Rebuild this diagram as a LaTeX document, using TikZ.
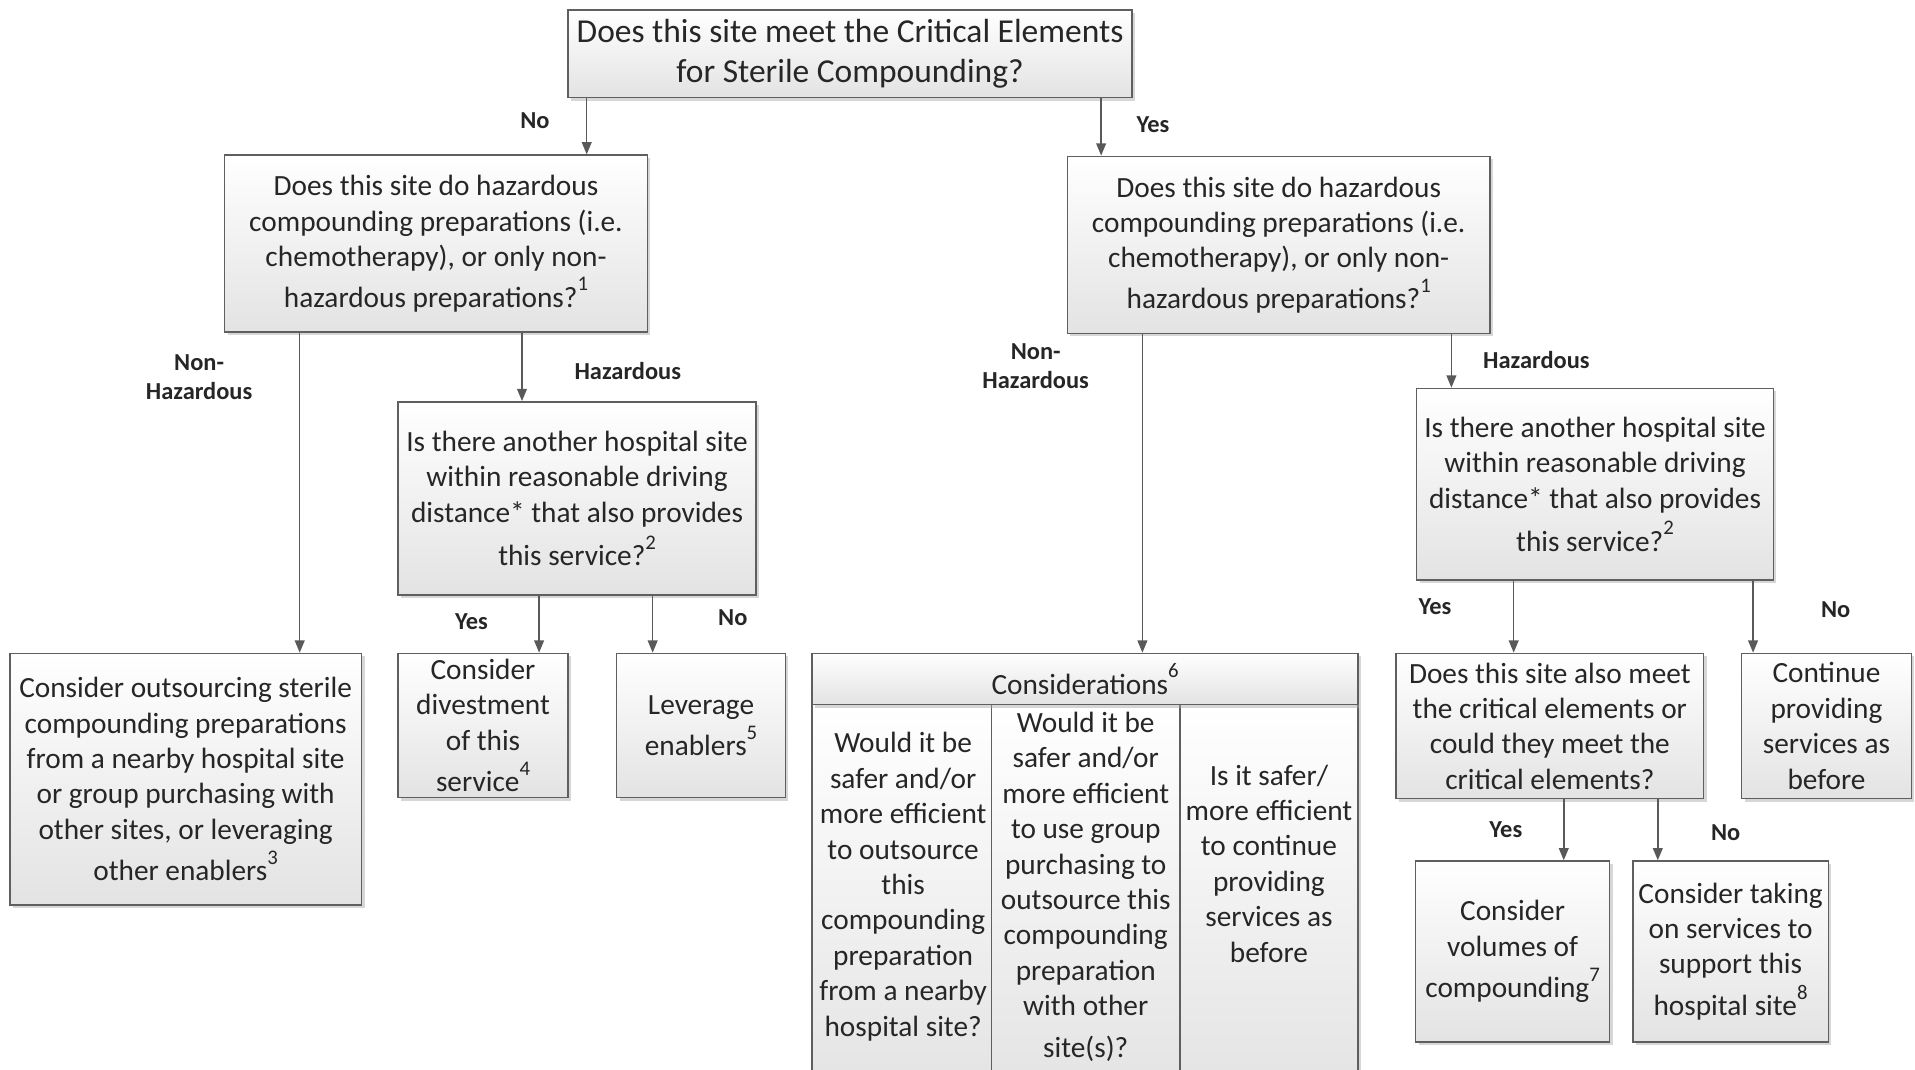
\documentclass[tikz,border=0pt]{standalone}
\usepackage{fontspec}
\setmainfont{Carlito}
\usetikzlibrary{arrows.meta,shadows}

\definecolor{boxline}{HTML}{5F5F5F}
\definecolor{boxgray}{HTML}{E3E3E3}
\definecolor{linegray}{HTML}{595959}
\definecolor{inktext}{HTML}{262626}

\newcommand{\fnote}[1]{\raisebox{0.55em}{\fontsize{17}{17}\selectfont #1}}

\tikzset{
  box/.style={draw=boxline, line width=1.2pt, top color=white, bottom color=boxgray,
    inner sep=0pt, align=center, text=inktext, font=\fontsize{24}{29}\selectfont,
    drop shadow={shadow xshift=2.5pt, shadow yshift=-2.5pt, fill=black!35, opacity=0.45}},
  celltext/.style={inner sep=0pt, align=center, text=inktext, font=\fontsize{24}{29}\selectfont},
  choice/.style={align=center, text=inktext, font=\bfseries\fontsize{20}{24}\selectfont},
  arr/.style={draw=linegray, line width=1.2pt, -{Triangle[length=10pt,width=8pt]}},
}

\begin{document}
\begin{tikzpicture}[x=1pt, y=-1pt]

            \useasboundingbox (0,0) rectangle (1568,876);
            \clip (0,0) rectangle (1568,876);

            % Root question
            \node[box, minimum width=462pt, minimum height=72pt, font=\fontsize{27.4}{33}\selectfont] (top) at (696,44)
              {Does this site meet the Critical Elements\\for Sterile Compounding?};

            % Left branch (No)
            \node[box, minimum width=346pt, minimum height=145pt] (hazL) at (357,199.5)
              {Does this site do hazardous\\compounding preparations (i.e.\\chemotherapy), or only non-\\[4pt]hazardous preparations?\fnote{1}};
            \node[box, minimum width=293pt, minimum height=158pt] (nearL) at (472.5,408)
              {Is there another hospital site\\within reasonable driving\\distance* that also provides\\[6pt]this service?\fnote{2}};
            \node[box, minimum width=288pt, minimum height=206pt] (outsource) at (152,638)
              {Consider outsourcing sterile\\compounding preparations\\from a nearby hospital site\\or group purchasing with\\other sites, or leveraging\\[5pt]other enablers\fnote{3}};
            \node[box, minimum width=139pt, minimum height=118pt] (divest) at (395.5,594)
              {Consider\\divestment\\of this\\[5pt]service\fnote{4}};
            \node[box, minimum width=138pt, minimum height=118pt] (leverage) at (574,594)
              {Leverage\\[5pt]enablers\fnote{5}};

            % Right branch (Yes)
            \node[box, minimum width=346pt, minimum height=145pt] (hazR) at (1047,200.5)
              {Does this site do hazardous\\compounding preparations (i.e.\\chemotherapy), or only non-\\[4pt]hazardous preparations?\fnote{1}};
            \node[box, minimum width=292pt, minimum height=157pt] (nearR) at (1306,396.5)
              {Is there another hospital site\\within reasonable driving\\distance* that also provides\\[6pt]this service?\fnote{2}};
            \node[box, minimum width=252pt, minimum height=119pt] (alsomeet) at (1269,594.5)
              {Does this site also meet\\the critical elements or\\could they meet the\\critical elements?};
            \node[box, minimum width=139pt, minimum height=119pt] (continue) at (1495.5,594.5)
              {Continue\\providing\\services as\\before};
            \node[box, minimum width=159pt, minimum height=148pt] (volumes) at (1238.5,779)
              {Consider\\volumes of\\[5pt]compounding\fnote{7}};
            \node[box, minimum width=160pt, minimum height=148pt] (takeon) at (1417,779)
              {Consider taking\\on services to\\support this\\[5pt]hospital site\fnote{8}};

            % Considerations table (runs past the bottom edge)
            \node[box, minimum width=147pt, minimum height=323pt] (consA) at (738.5,738.5) {};
            \node[box, minimum width=154pt, minimum height=323pt] (consB) at (889,738.5) {};
            \node[box, minimum width=146pt, minimum height=323pt] (consC) at (1039,738.5) {};
            \node[box, minimum width=447pt, minimum height=42pt] (cons) at (888.5,556)
              {Considerations\fnote{6}};
            \node[celltext] (consAtext) at (739.5,726)
              {Would it be\\safer and/or\\more efficient\\to outsource\\this\\compounding\\preparation\\from a nearby\\hospital site?};
            \node[celltext] (consBtext) at (889,726)
              {Would it be\\safer and/or\\more efficient\\to use group\\purchasing to\\outsource this\\compounding\\preparation\\with other\\[5pt]site(s)?};
            \node[celltext] (consCtext) at (1039,707)
              {Is it safer/\\more efficient\\to continue\\providing\\services as\\before};

            % Connectors
            \draw[arr] ([xshift=16pt]top.south west) -- ([xshift=16pt]top.south west |- hazL.north);
            \draw[arr] ([xshift=-26pt]top.south east) -- ([xshift=-26pt]top.south east |- hazR.north);
            \draw[arr] ([xshift=62pt]hazL.south west) -- ([xshift=62pt]hazL.south west |- outsource.north);
            \draw[arr] ([xshift=244pt]hazL.south west) -- ([xshift=244pt]hazL.south west |- nearL.north);
            \draw[arr] ([xshift=116pt]nearL.south west) -- ([xshift=116pt]nearL.south west |- divest.north);
            \draw[arr] ([xshift=209pt]nearL.south west) -- ([xshift=209pt]nearL.south west |- leverage.north);
            \draw[arr] ([xshift=62pt]hazR.south west) -- ([xshift=62pt]hazR.south west |- cons.north);
            \draw[arr] ([xshift=315pt]hazR.south west) -- ([xshift=315pt]hazR.south west |- nearR.north);
            \draw[arr] ([xshift=80pt]nearR.south west) -- ([xshift=80pt]nearR.south west |- alsomeet.north);
            \draw[arr] ([xshift=276pt]nearR.south west) -- ([xshift=276pt]nearR.south west |- continue.north);
            \draw[arr] ([xshift=138pt]alsomeet.south west) -- ([xshift=138pt]alsomeet.south west |- volumes.north);
            \draw[arr] ([xshift=215pt]alsomeet.south west) -- ([xshift=215pt]alsomeet.south west |- takeon.north);

            % Branch labels
            \node[choice] (noTop) at (438,99) {No};
            \node[choice] (yesTop) at (944,102) {Yes};
            \node[choice] (nonhazL) at (163,309) {Non-\\Hazardous};
            \node[choice] (hazLabelL) at (514,304) {Hazardous};
            \node[choice] (yesL) at (386,509) {Yes};
            \node[choice] (noL) at (600,506) {No};
            \node[choice] (nonhazR) at (848,300) {Non-\\Hazardous};
            \node[choice] (hazLabelR) at (1258,295) {Hazardous};
            \node[choice] (yesR) at (1175,497) {Yes};
            \node[choice] (noR) at (1503,499) {No};
            \node[choice] (yesLow) at (1233,679) {Yes};
            \node[choice] (noLow) at (1413,682) {No};

        \end{tikzpicture}
\end{document}
